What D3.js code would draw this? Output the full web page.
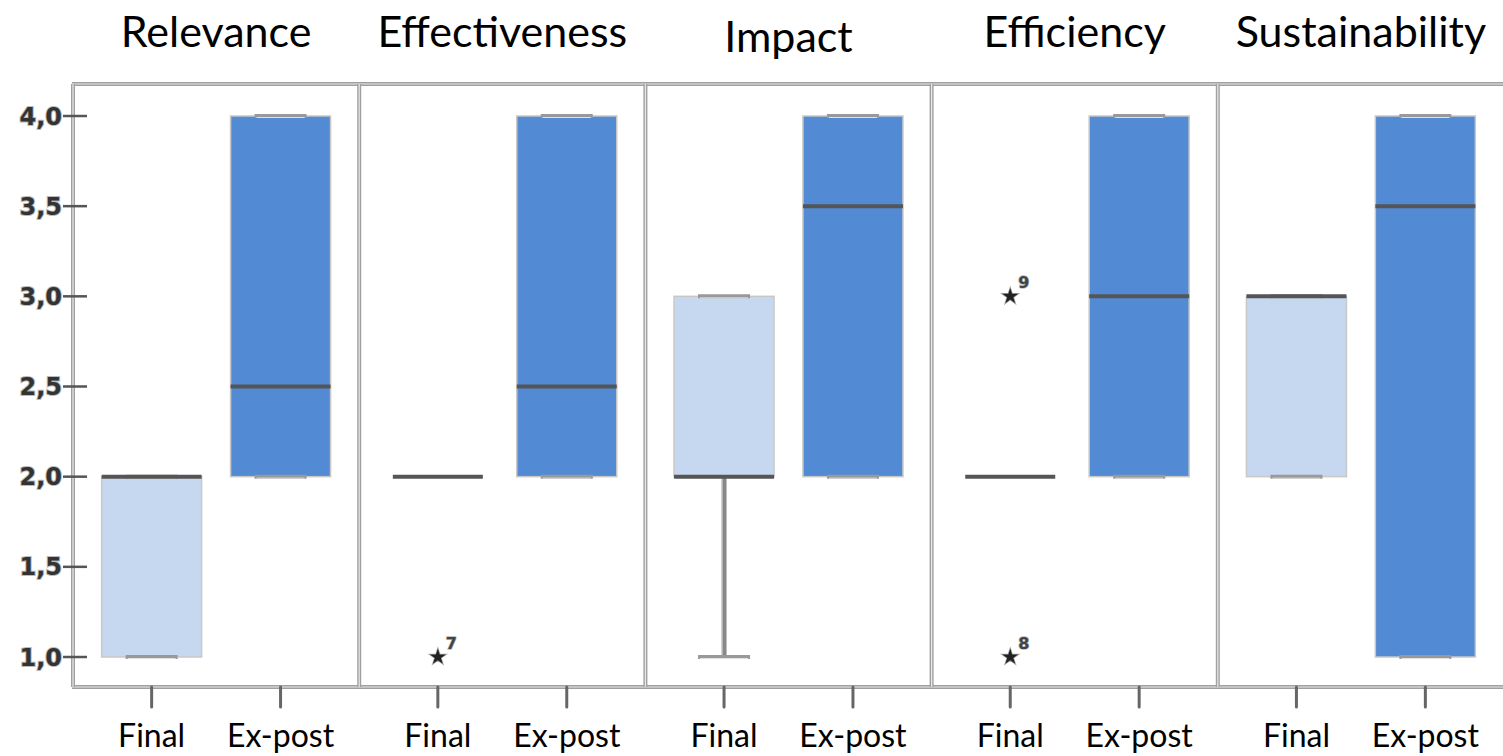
<!DOCTYPE html>
<html>
<head>
<meta charset="utf-8">
<script src="https://cdn.jsdelivr.net/npm/d3@7/dist/d3.min.js"></script>
<style>
  body { margin: 0; background: #fff; }
  svg { display: block; }
</style>
</head>
<body>
<div id="chart"></div>
<script>
const criteria = ['Relevance', 'Effectiveness', 'Impact', 'Efficiency', 'Sustainability'];
const groups = ['Final', 'Ex-post'];
const yTicks = [1.0, 1.5, 2.0, 2.5, 3.0, 3.5, 4.0];

// [min, q1, median, q3, max] per criterion, one list per group
const finalStats = [
  [1, 1, 2, 2, 2],
  [2, 2, 2, 2, 2],
  [1, 2, 2, 3, 3],
  [2, 2, 2, 2, 2],
  [2, 2, 3, 3, 3],
];
const expostStats = [
  [2, 2, 2.5, 4, 4],
  [2, 2, 2.5, 4, 4],
  [2, 2, 3.5, 4, 4],
  [2, 2, 3, 4, 4],
  [1, 1, 3.5, 4, 4],
];
// extreme values (starred): criterion, group, value, case label
const outliers = [
  { criterion: 'Effectiveness', group: 'Final', value: 1, label: '7' },
  { criterion: 'Efficiency', group: 'Final', value: 3, label: '9' },
  { criterion: 'Efficiency', group: 'Final', value: 1, label: '8' },
];

const width = 1503;
const height = 756;
const margin = { left: 73, top: 84, right: -1, bottom: 69 };
const boxWidth = 100;
const capWidth = 52;
const colors = { 'Final': '#c6d8f0', 'Ex-post': '#528bd4' };

const svg = d3.select('#chart').append('svg')
  .attr('width', width)
  .attr('height', height);

const panel = d3.scaleBand()
  .domain(criteria)
  .range([margin.left, width - margin.right]);

const cat = d3.scalePoint()
  .domain(groups)
  .range([0, panel.bandwidth()])
  .padding(0.61);

const y = d3.scaleLinear()
  .domain([1, 4])
  .range([657, 116]);

const plotBottom = height - margin.bottom;

const boxes = [];
criteria.forEach((c, i) => {
  const s = [finalStats[i], expostStats[i]];
  groups.forEach((g, j) => {
    const [min, q1, med, q3, max] = s[j];
    boxes.push({ criterion: c, group: g, min, q1, med, q3, max });
  });
});

const xOf = (d) => panel(d.criterion) + cat(d.group);

// frame: double grey lines
const frame = svg.append('g');
function dbl(x1, y1, x2, y2) {
  frame.append('line').attr('x1', x1).attr('y1', y1).attr('x2', x2).attr('y2', y2)
    .attr('stroke', '#a0a0a0').attr('stroke-width', 4);
  frame.append('line').attr('x1', x1).attr('y1', y1).attr('x2', x2).attr('y2', y2)
    .attr('stroke', '#e8e8e8').attr('stroke-width', 1.2);
}

// y axis ticks
const yAxisG = svg.append('g');
yAxisG.selectAll('line')
  .data(yTicks)
  .enter().append('line')
    .attr('x1', margin.left - 10).attr('x2', margin.left + 14)
    .attr('y1', (d) => y(d)).attr('y2', (d) => y(d))
    .attr('stroke', '#555').attr('stroke-width', 2.5);
yAxisG.selectAll('text')
  .data(yTicks)
  .enter().append('text')
    .attr('x', margin.left - 11)
    .attr('y', (d) => y(d))
    .attr('dy', '0.36em')
    .attr('text-anchor', 'end')
    .attr('font-family', 'DejaVu Sans, sans-serif')
    .attr('font-weight', 'bold')
    .attr('font-size', 24)
    .attr('fill', '#333')
    .attr('stroke', '#bbb')
    .attr('stroke-width', 2)
    .attr('paint-order', 'stroke')
    .text((d) => d3.format('.1f')(d).replace('.', ','));

// x ticks
svg.append('g').selectAll('line')
  .data(boxes)
  .enter().append('line')
    .attr('x1', xOf).attr('x2', xOf)
    .attr('y1', plotBottom).attr('y2', plotBottom + 20)
    .attr('stroke', '#666').attr('stroke-width', 3)
    .attr('stroke-linecap', 'round');

// frame lines
dbl(margin.left - 1, margin.top, width, margin.top);
dbl(margin.left - 1, plotBottom, width, plotBottom);
dbl(margin.left, margin.top, margin.left, plotBottom);
criteria.slice(1).forEach((c) => {
  dbl(panel(c), margin.top, panel(c), plotBottom);
});

// whiskers
const wg = svg.append('g');
boxes.filter((d) => d.min < d.q1).forEach((d) => {
  wg.append('line')
    .attr('x1', xOf(d)).attr('x2', xOf(d))
    .attr('y1', y(d.q1)).attr('y2', y(d.min))
    .attr('stroke', '#888').attr('stroke-width', 5);
  wg.append('line')
    .attr('x1', xOf(d) - 2).attr('x2', xOf(d) - 2)
    .attr('y1', y(d.q1)).attr('y2', y(d.min))
    .attr('stroke', '#ddd').attr('stroke-width', 1);
});
boxes.filter((d) => d.max > d.q3).forEach((d) => {
  wg.append('line')
    .attr('x1', xOf(d)).attr('x2', xOf(d))
    .attr('y1', y(d.q3)).attr('y2', y(d.max))
    .attr('stroke', '#888').attr('stroke-width', 5);
});

// boxes
svg.append('g').selectAll('rect')
  .data(boxes.filter((d) => d.q3 > d.q1))
  .enter().append('rect')
    .attr('x', (d) => xOf(d) - boxWidth / 2)
    .attr('y', (d) => y(d.q3))
    .attr('width', boxWidth)
    .attr('height', (d) => y(d.q1) - y(d.q3))
    .attr('fill', (d) => colors[d.group])
    .attr('stroke', '#c8c8c8')
    .attr('stroke-width', 1.5);

// whisker caps
const caps = [];
boxes.forEach((d) => {
  if (d.q3 > d.q1 || d.min < d.q1) caps.push({ d, v: d.min });
  if (d.q3 > d.q1 || d.max > d.q3) caps.push({ d, v: d.max });
});
const cg = svg.append('g');
cg.selectAll('line.cap-o')
  .data(caps)
  .enter().append('line')
    .attr('x1', (c) => xOf(c.d) - capWidth / 2)
    .attr('x2', (c) => xOf(c.d) + capWidth / 2)
    .attr('y1', (c) => y(c.v)).attr('y2', (c) => y(c.v))
    .attr('stroke', '#999').attr('stroke-width', 4);
cg.selectAll('line.cap-i')
  .data(caps)
  .enter().append('line')
    .attr('x1', (c) => xOf(c.d) - capWidth / 2 + 2)
    .attr('x2', (c) => xOf(c.d) + capWidth / 2 - 2)
    .attr('y1', (c) => y(c.v) + 1.5).attr('y2', (c) => y(c.v) + 1.5)
    .attr('stroke', '#e0e0e0').attr('stroke-width', 1);

// medians
svg.append('g').selectAll('line')
  .data(boxes)
  .enter().append('line')
    .attr('x1', (d) => xOf(d) - (d.q3 > d.q1 ? boxWidth / 2 : boxWidth / 2 - 5))
    .attr('x2', (d) => xOf(d) + (d.q3 > d.q1 ? boxWidth / 2 : boxWidth / 2 - 5))
    .attr('y1', (d) => y(d.med)).attr('y2', (d) => y(d.med))
    .attr('stroke', '#555').attr('stroke-width', 4);

// outliers
const star = d3.symbol().type(d3.symbolStar).size(80);
const og = svg.append('g').selectAll('g')
  .data(outliers)
  .enter().append('g')
    .attr('transform', (d) => `translate(${panel(d.criterion) + cat(d.group)},${y(d.value)})`);
og.append('path')
  .attr('d', star)
  .attr('fill', '#222')
  .attr('stroke', '#aaa')
  .attr('stroke-width', 1.5)
  .attr('paint-order', 'stroke');
og.append('text')
  .attr('x', 8).attr('y', -8)
  .attr('font-family', 'DejaVu Sans, sans-serif')
  .attr('font-weight', 'bold')
  .attr('font-size', 16)
  .attr('fill', '#444')
  .attr('stroke', '#bbb')
  .attr('stroke-width', 1.5)
  .attr('paint-order', 'stroke')
  .text((d) => d.label);

// titles
svg.append('g').selectAll('text')
  .data(criteria)
  .enter().append('text')
    .attr('x', (d) => panel(d) + panel.bandwidth() / 2)
    .attr('y', (d) => d === 'Impact' ? 52 : 47)
    .attr('text-anchor', 'middle')
    .attr('font-family', 'Lato, sans-serif')
    .attr('font-size', 43)
    .attr('fill', '#000')
    .text((d) => d);

// category labels
svg.append('g').selectAll('text')
  .data(boxes)
  .enter().append('text')
    .attr('x', xOf)
    .attr('y', 747)
    .attr('text-anchor', 'middle')
    .attr('font-family', 'Lato, sans-serif')
    .attr('font-size', 32)
    .attr('fill', '#000')
    .text((d) => d.group);
</script>
</body>
</html>
